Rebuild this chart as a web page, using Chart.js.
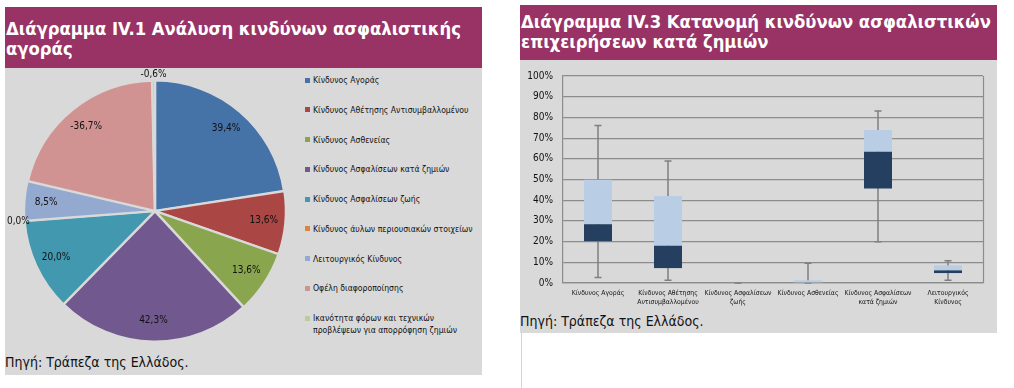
<!DOCTYPE html>
<html>
<head>
<meta charset="utf-8">
<script src="https://cdn.jsdelivr.net/npm/chart.js@4.4.1/dist/chart.umd.min.js"></script>
<style>
  body { margin: 0; width: 1014px; height: 388px; background: #fff; position: relative; overflow: hidden;
         font-family: Tahoma, "DejaVu Sans Condensed", "DejaVu Sans", sans-serif; }
  .panel { position: absolute; background: #d9d9d9; }
  .title { background: #993366; color: #fff; font-weight: bold; font-size: 18.3px; line-height: 20px;
           box-sizing: border-box; padding-left: 1px; white-space: nowrap; overflow: hidden; }
  .source { position: absolute; font-size: 14px; color: #111; white-space: nowrap; }
  .legend { position: absolute; left: 305px; top: 0; width: 173px; font-size: 8.6px; color: #111; }
  .legend .item { position: absolute; left: 0; width: 173px; line-height: 12px; padding-left: 8px; box-sizing: border-box; }
  .legend .sq { position: absolute; left: 0; top: 3.5px; width: 5px; height: 5px; }
  canvas { position: absolute; }
</style>
</head>
<body>

<div class="panel" style="left:5px; top:7px; width:477px; height:368px;">
  <div class="title" style="height:61px; padding-top:12px;">Διάγραμμα IV.1 Ανάλυση κινδύνων ασφαλιστικής<br>αγοράς</div>
</div>
<div class="source" style="left:5px; top:354px;">Πηγή: Τράπεζα της Ελλάδος.</div>
<div class="legend" id="pieLegend"></div>
<canvas id="pieChart" width="295" height="290" style="left:5px; top:68px;"></canvas>

<div class="panel" style="left:520px; top:5px; width:477px; height:328px;">
  <div class="title" style="height:55px; padding-top:7px;">Διάγραμμα IV.3 Κατανομή κινδύνων ασφαλιστικών<br>επιχειρήσεων κατά ζημιών</div>
</div>
<div class="source" style="left:520px; top:313px;">Πηγή: Τράπεζα της Ελλάδος.</div>
<div style="position:absolute; left:521px; top:333px; width:1px; height:55px; background:#d4d4d4;"></div>
<canvas id="boxChart" width="477" height="250" style="left:520px; top:60px;"></canvas>

<script>
const FONT = 'Tahoma, "DejaVu Sans Condensed", "DejaVu Sans", sans-serif';
Chart.defaults.font.family = FONT;

// Διάγραμμα IV.1
const riskLabels = [
  'Κίνδυνος Αγοράς',
  'Κίνδυνος Αθέτησης Αντισυμβαλλομένου',
  'Κίνδυνος Ασθενείας',
  'Κίνδυνος Ασφαλίσεων κατά ζημιών',
  'Κίνδυνος Ασφαλίσεων ζωής',
  'Κίνδυνος άυλων περιουσιακών στοιχείων',
  'Λειτουργικός Κίνδυνος',
  'Οφέλη διαφοροποίησης',
  'Ικανότητα φόρων και τεχνικών προβλέψεων για απορρόφηση ζημιών'
];
const riskShares = [39.4, 13.6, 13.6, 42.3, 20.0, 0.0, 8.5, -36.7, -0.6];
const riskColors = ['#4572a7', '#aa4643', '#89a54e', '#71588f', '#4198af', '#db843d', '#93a9cf', '#d19392', '#b9cd96'];

// Διάγραμμα IV.3
const boxCategories = [
  ['Κίνδυνος Αγοράς'],
  ['Κίνδυνος Αθέτησης', 'Αντισυμβαλλομένου'],
  ['Κίνδυνος Ασφαλίσεων', 'ζωής'],
  ['Κίνδυνος Ασθενείας'],
  ['Κίνδυνος Ασφαλίσεων', 'κατά ζημιών'],
  ['Λειτουργικός', 'Κίνδυνος']
];
const boxMin = [2.6, 1.3, 0, 0, 19.9, 1.3];
const boxQ1  = [20.2, 7.2, 0, 0, 45.6, 4.8];
const boxMed = [28.4, 18.0, 0, 0, 63.4, 6.1];
const boxQ3  = [49.9, 42.0, 0, 1.3, 73.9, 8.5];
const boxMax = [76.1, 58.9, 0, 9.5, 83.1, 10.8];
const yTickValues = [0, 10, 20, 30, 40, 50, 60, 70, 80, 90, 100];

const fmt = v => v.toFixed(1).replace('.', ',') + '%';

// legend
const legendEl = document.getElementById('pieLegend');
riskLabels.forEach((label, i) => {
  const item = document.createElement('div');
  item.className = 'item';
  item.style.top = (74 + i * 29.75) + 'px';
  item.innerHTML = '<span class="sq" style="background:' + riskColors[i] + '"></span>' + label;
  legendEl.appendChild(item);
});

const pieLabels = {
  id: 'pieLabels',
  afterDatasetsDraw(chart) {
    const ctx = chart.ctx;
    const meta = chart.getDatasetMeta(0);
    const total = riskShares.reduce((s, v) => s + Math.abs(v), 0);
    ctx.save();
    ctx.font = '10px ' + FONT;
    ctx.fillStyle = '#111';
    ctx.textAlign = 'center';
    ctx.textBaseline = 'middle';
    meta.data.forEach((arc, i) => {
      const p = arc.getProps(['x', 'y', 'startAngle', 'endAngle', 'outerRadius']);
      const mid = (p.startAngle + p.endAngle) / 2;
      const small = Math.abs(riskShares[i]) / total < 0.02;
      const r = small ? p.outerRadius + 7 : p.outerRadius * 0.84;
      ctx.fillText(fmt(riskShares[i]), p.x + Math.cos(mid) * r, p.y + Math.sin(mid) * r);
    });
    ctx.restore();
  }
};

new Chart(document.getElementById('pieChart'), {
  type: 'pie',
  data: {
    labels: riskLabels,
    datasets: [{
      data: riskShares,
      backgroundColor: riskColors,
      borderColor: '#d9d9d9',
      borderWidth: 2,
      offset: 2,
      hoverOffset: 0
    }]
  },
  options: {
    responsive: false,
    animation: false,
    layout: { padding: { left: 18, top: 11, right: 13, bottom: 15 } },
    plugins: { legend: { display: false }, tooltip: { enabled: false } }
  },
  plugins: [pieLabels]
});

const whiskers = {
  id: 'whiskers',
  beforeDatasetsDraw(chart) {
    const { ctx, chartArea, scales: { x, y } } = chart;
    ctx.save();
    ctx.strokeStyle = '#8c8c8c';
    ctx.lineWidth = 1.2;
    ctx.beginPath();
    ctx.moveTo(chartArea.right + 0.5, chartArea.top);
    ctx.lineTo(chartArea.right + 0.5, chartArea.bottom);
    ctx.stroke();
    ctx.strokeStyle = '#7f7f7f';
    ctx.lineWidth = 1.5;
    boxCategories.forEach((c, i) => {
      const cx = x.getPixelForValue(i);
      const y0 = y.getPixelForValue(boxMin[i]);
      const y1 = y.getPixelForValue(boxMax[i]);
      ctx.beginPath();
      ctx.moveTo(cx, y0); ctx.lineTo(cx, y1);
      ctx.moveTo(cx - 3.5, y0); ctx.lineTo(cx + 3.5, y0);
      ctx.moveTo(cx - 3.5, y1); ctx.lineTo(cx + 3.5, y1);
      ctx.stroke();
    });
    ctx.restore();
  }
};

new Chart(document.getElementById('boxChart'), {
  type: 'bar',
  data: {
    labels: boxCategories,
    datasets: [
      {
        label: 'Q1 - διάμεσος',
        data: boxQ1.map((q, i) => [q, boxMed[i]]),
        backgroundColor: '#243f60',
        grouped: false,
        barPercentage: 0.4,
        categoryPercentage: 1
      },
      {
        label: 'διάμεσος - Q3',
        data: boxMed.map((m, i) => [m, boxQ3[i]]),
        backgroundColor: '#b9cde5',
        grouped: false,
        barPercentage: 0.4,
        categoryPercentage: 1
      }
    ]
  },
  options: {
    responsive: false,
    animation: false,
    layout: { padding: { left: 0, top: 13, right: 14, bottom: 0 } },
    plugins: { legend: { display: false }, tooltip: { enabled: false } },
    scales: {
      x: {
        grid: { display: false, drawTicks: false },
        border: { color: '#8c8c8c', width: 1.2 },
        ticks: { color: '#111', font: { size: 6.8, lineHeight: 1.25 }, padding: 6, maxRotation: 0, autoSkip: false },
        afterFit(s) { s.height = 27; }
      },
      y: {
        min: 0,
        max: 100,
        afterBuildTicks(s) { s.ticks = yTickValues.map(v => ({ value: v })); },
        ticks: { color: '#111', font: { size: 10 }, padding: 10, callback: v => v + '%' },
        grid: { color: '#8c8c8c', lineWidth: 1.2, drawTicks: false },
        border: { color: '#8c8c8c', width: 1.2 },
        afterFit(s) { s.width = 43; }
      }
    }
  },
  plugins: [whiskers]
});
</script>
</body>
</html>
